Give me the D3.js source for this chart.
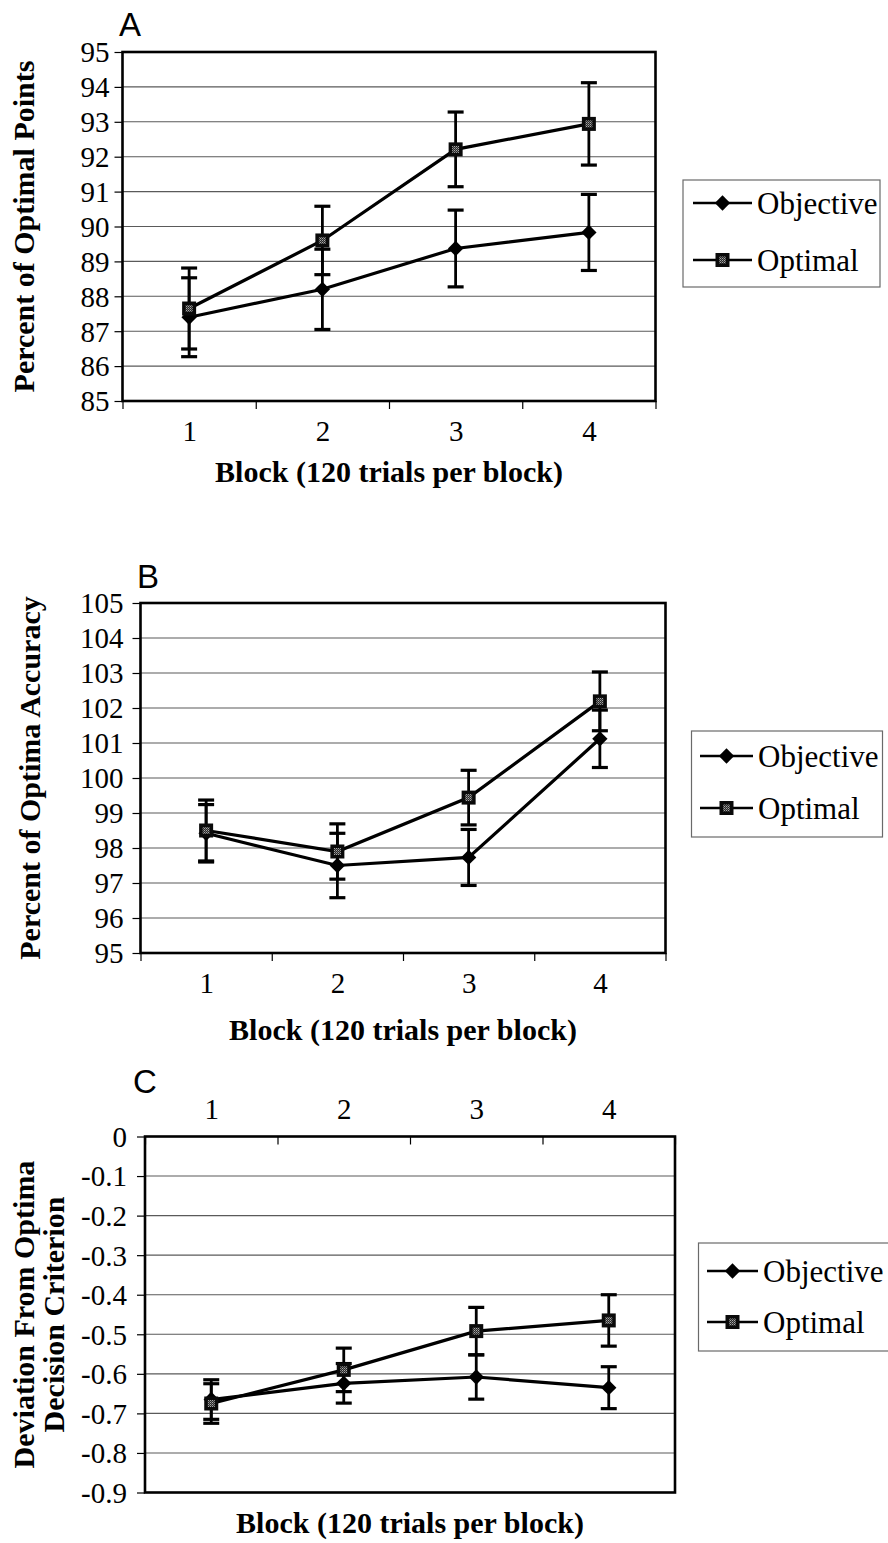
<!DOCTYPE html>
<html>
<head>
<meta charset="utf-8">
<script src="https://cdn.jsdelivr.net/npm/d3@7"></script>
<style>
  html, body { margin: 0; padding: 0; background: #fff; }
  svg { display: block; }
</style>
</head>
<body>
<svg id="fig" width="888" height="1543"></svg>
<script>
// ---- Data ----------------------------------------------------------
const blocks = [1, 2, 3, 4];
const blockLabels = ["1", "2", "3", "4"];
const seriesNames = ["Objective", "Optimal"];

// Panel A: percent of optimal points
const pointsTicks = [85, 86, 87, 88, 89, 90, 91, 92, 93, 94, 95];
const pointsObjective = [87.4, 88.2, 89.37, 89.83];
const pointsObjectiveErr = [1.13, 1.15, 1.1, 1.09];
const pointsOptimal = [87.65, 89.6, 92.21, 92.94];
const pointsOptimalErr = [1.16, 0.98, 1.07, 1.18];

// Panel B: percent of optimal accuracy
const accuracyTicks = [95, 96, 97, 98, 99, 100, 101, 102, 103, 104, 105];
const accuracyObjective = [98.42, 97.5, 97.73, 101.12];
const accuracyObjectiveErr = [0.82, 0.92, 0.8, 0.82];
const accuracyOptimal = [98.5, 97.9, 99.44, 102.19];
const accuracyOptimalErr = [0.87, 0.79, 0.78, 0.84];

// Panel C: deviation from optimal decision criterion
const deviationTicks = [-0.9, -0.8, -0.7, -0.6, -0.5, -0.4, -0.3, -0.2, -0.1, 0];
const deviationObjective = [-0.665, -0.624, -0.608, -0.635];
const deviationObjectiveErr = [0.05, 0.05, 0.056, 0.053];
const deviationOptimal = [-0.675, -0.59, -0.492, -0.465];
const deviationOptimalErr = [0.05, 0.055, 0.06, 0.065];

// ---- Drawing -------------------------------------------------------
const svg = d3.select("#fig");
const SERIF = "'Liberation Serif', 'Times New Roman', serif";
const SANS = "'Liberation Sans', Arial, sans-serif";

// grey dither used inside the square markers
const defs = svg.append("defs");
const pat = defs.append("pattern").attr("id", "dither")
  .attr("width", 2).attr("height", 2).attr("patternUnits", "userSpaceOnUse");
pat.append("rect").attr("width", 2).attr("height", 2).attr("fill", "#2a2a2a");
pat.append("rect").attr("width", 1).attr("height", 1).attr("fill", "#a8a8a8");
pat.append("rect").attr("x", 1).attr("y", 1).attr("width", 1).attr("height", 1).attr("fill", "#6e6e6e");

function drawMarker(g, kind, x, y) {
  if (kind === "diamond") {
    g.append("path")
      .attr("d", d3.symbol().type(d3.symbolDiamond2).size(150)())
      .attr("transform", `translate(${x},${y})`)
      .attr("fill", "#000");
  } else {
    g.append("rect").attr("x", x - 7).attr("y", y - 7).attr("width", 14).attr("height", 14)
      .attr("fill", "#0a0a0a");
    g.append("rect").attr("x", x - 3.5).attr("y", y - 3.5).attr("width", 7).attr("height", 7)
      .attr("fill", "url(#dither)");
  }
}

function drawPanel(p) {
  const g = svg.append("g");
  const x = d3.scaleLinear().domain([0.5, 4.5]).range([p.left, p.right]);
  const y = d3.scaleLinear().domain(p.domain).range([p.bottom, p.top]);
  const fmt = p.format || (v => String(v));

  // horizontal gridlines
  g.append("g").selectAll("line").data(p.ticks.filter(t => t !== p.domain[0] && t !== p.domain[1]))
    .join("line")
    .attr("x1", p.left).attr("x2", p.right)
    .attr("y1", d => y(d)).attr("y2", d => y(d))
    .attr("stroke", "#5a5a5a").attr("stroke-width", 1.1);

  // y axis
  const yAxis = g.append("g").attr("transform", `translate(${p.left},0)`)
    .call(d3.axisLeft(y).tickValues(p.ticks).tickSize(8).tickPadding(p.yPad).tickFormat(fmt));
  yAxis.attr("font-family", null).attr("font-size", null);
  yAxis.select(".domain").remove();
  yAxis.selectAll(".tick line").attr("stroke", "#000").attr("stroke-width", 1.2);
  yAxis.selectAll(".tick text")
    .style("font-family", SERIF).style("font-size", "29px")
    .attr("fill", "#000").attr("dy", "0.34em");

  // x axis: tick marks at block boundaries, labels at block centres
  const bounds = [0.5, 1.5, 2.5, 3.5, 4.5];
  const xAxisY = p.xTop ? p.top : p.bottom;
  const xt = g.append("g").attr("transform", `translate(0,${xAxisY})`)
    .call(d3.axisBottom(x).tickValues(bounds).tickSize(8).tickFormat(""));
  xt.select(".domain").remove();
  xt.selectAll(".tick line").attr("stroke", "#000").attr("stroke-width", 1.2);

  const xl = g.append("g").attr("transform", `translate(0,${p.xLabelBaseline})`)
    .call(d3.axisBottom(x).tickValues(blocks).tickSize(0).tickFormat((d, i) => blockLabels[i]));
  xl.attr("font-family", null).attr("font-size", null);
  xl.select(".domain").remove();
  xl.selectAll(".tick text")
    .style("font-family", SERIF).style("font-size", "29px")
    .attr("fill", "#000").attr("y", 0).attr("dy", 0);

  // plot frame
  g.append("rect").attr("x", p.left).attr("y", p.top)
    .attr("width", p.right - p.left).attr("height", p.bottom - p.top)
    .attr("fill", "none").attr("stroke", "#000").attr("stroke-width", 2.6);

  // series
  const series = [
    { name: seriesNames[0], vals: p.objective, err: p.objectiveErr, kind: "diamond" },
    { name: seriesNames[1], vals: p.optimal, err: p.optimalErr, kind: "square" }
  ];
  const line = d3.line().x((d, i) => x(blocks[i])).y(d => y(d));
  series.forEach(s => {
    g.append("path").datum(s.vals).attr("d", line)
      .attr("fill", "none").attr("stroke", "#000").attr("stroke-width", 3.2);
  });
  series.forEach(s => {
    const eg = g.append("g");
    s.vals.forEach((v, i) => {
      const cx = x(blocks[i]);
      const y1 = y(v + s.err[i]), y2 = y(v - s.err[i]);
      eg.append("line").attr("x1", cx).attr("x2", cx).attr("y1", y1).attr("y2", y2)
        .attr("stroke", "#000").attr("stroke-width", 2.8);
      [y1, y2].forEach(cy => eg.append("line")
        .attr("x1", cx - 8).attr("x2", cx + 8).attr("y1", cy).attr("y2", cy)
        .attr("stroke", "#000").attr("stroke-width", 3.2));
    });
  });
  series.forEach(s => {
    s.vals.forEach((v, i) => drawMarker(g, s.kind, x(blocks[i]), y(v)));
  });

  // panel letter
  g.append("text").attr("x", p.letterX).attr("y", p.letterY)
    .style("font-family", SANS).style("font-size", "33px").attr("fill", "#000").text(p.letter);

  // axis titles
  g.append("text").attr("x", (p.left + p.right) / 2).attr("y", p.xTitleBaseline)
    .attr("text-anchor", "middle")
    .style("font-family", SERIF).style("font-weight", "bold").style("font-size", "30px")
    .attr("fill", "#000").text("Block (120 trials per block)");
  const cy = (p.top + p.bottom) / 2;
  p.yTitle.forEach((t, i) => {
    g.append("text")
      .attr("transform", `translate(${p.yTitleX[i]},${cy}) rotate(-90)`)
      .attr("text-anchor", "middle")
      .style("font-family", SERIF).style("font-weight", "bold").style("font-size", "30px")
      .attr("fill", "#000").text(t);
  });

  // legend
  const L = p.legend;
  g.append("rect").attr("x", L.x).attr("y", L.y).attr("width", L.w).attr("height", L.h)
    .attr("fill", "#fff").attr("stroke", "#6a6a6a").attr("stroke-width", 1.2);
  series.forEach((s, i) => {
    const ry = L.rows[i];
    g.append("line").attr("x1", L.lineX0).attr("x2", L.lineX1).attr("y1", ry).attr("y2", ry)
      .attr("stroke", "#000").attr("stroke-width", 2.4);
    drawMarker(g, s.kind, (L.lineX0 + L.lineX1) / 2, ry);
    g.append("text").attr("x", L.lineX1 + 5).attr("y", ry + 10.5)
      .style("font-family", SERIF).style("font-size", "31px").attr("fill", "#000").text(s.name);
  });
}

drawPanel({
  letter: "A", letterX: 119, letterY: 36,
  left: 122.5, right: 655.5, top: 52, bottom: 401,
  domain: [85, 95], ticks: pointsTicks, yPad: 5,
  objective: pointsObjective, objectiveErr: pointsObjectiveErr,
  optimal: pointsOptimal, optimalErr: pointsOptimalErr,
  xLabelBaseline: 441, xTitleBaseline: 482,
  yTitle: ["Percent of Optimal Points"], yTitleX: [34],
  legend: { x: 683, y: 180, w: 197, h: 107, rows: [203, 260], lineX0: 693, lineX1: 752 }
});

drawPanel({
  letter: "B", letterX: 137, letterY: 588,
  left: 140.5, right: 665.5, top: 603, bottom: 953,
  domain: [95, 105], ticks: accuracyTicks, yPad: 9,
  objective: accuracyObjective, objectiveErr: accuracyObjectiveErr,
  optimal: accuracyOptimal, optimalErr: accuracyOptimalErr,
  xLabelBaseline: 993, xTitleBaseline: 1040,
  yTitle: ["Percent of Optima Accuracy"], yTitleX: [40],
  legend: { x: 691.5, y: 731, w: 191, h: 106, rows: [756, 808], lineX0: 700, lineX1: 753 }
});

drawPanel({
  letter: "C", letterX: 133, letterY: 1093,
  left: 145, right: 675, top: 1136.5, bottom: 1492.5,
  domain: [-0.9, 0], ticks: deviationTicks, yPad: 10,
  format: v => (v === 0 ? "0" : v.toFixed(1)),
  objective: deviationObjective, objectiveErr: deviationObjectiveErr,
  optimal: deviationOptimal, optimalErr: deviationOptimalErr,
  xTop: true, xLabelBaseline: 1119, xTitleBaseline: 1533,
  yTitle: ["Deviation From Optima", "Decision Criterion"], yTitleX: [34, 64],
  legend: { x: 698.5, y: 1243, w: 195, h: 108, rows: [1271, 1322], lineX0: 707, lineX1: 758 }
});
</script>
</body>
</html>
